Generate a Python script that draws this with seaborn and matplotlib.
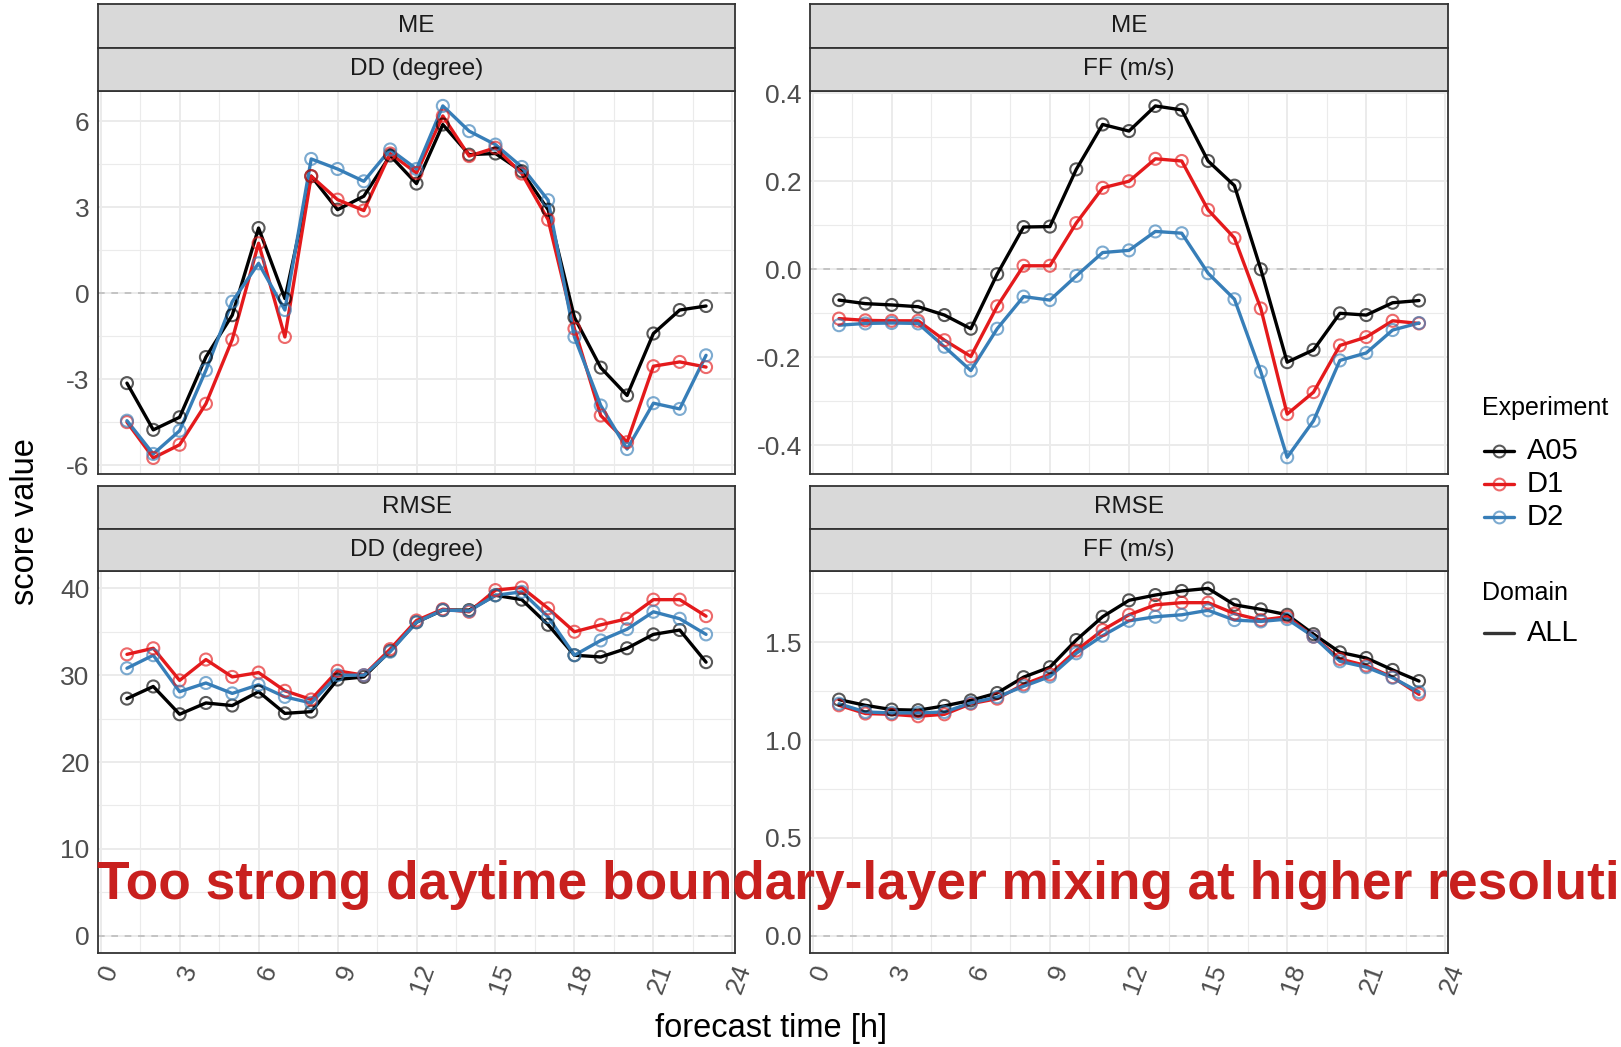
import numpy as np
import pandas as pd
import matplotlib
matplotlib.use("Agg")
import matplotlib.pyplot as plt
import seaborn as sns
from matplotlib.lines import Line2D

# ==================================================
# DATA
# ==================================================
hours = list(range(1, 24))
experiments = ["A05", "D1", "D2"]
exp_colors = ["#000000", "#E41A1C", "#377EB8"]

me_dd_a05 = [-3.13, -4.76, -4.32, -2.22, -0.76, 2.28, -0.18, 4.09, 2.92, 3.39, 4.81, 3.83,
             5.89, 4.84, 4.88, 4.26, 2.92, -0.84, -2.59, -3.56, -1.40, -0.58, -0.44]
me_dd_d1 = [-4.49, -5.74, -5.28, -3.85, -1.61, 1.75, -1.52, 4.09, 3.27, 2.89, 4.88, 4.20,
            6.19, 4.79, 5.08, 4.18, 2.57, -1.23, -4.26, -5.19, -2.54, -2.39, -2.57]
me_dd_d2 = [-4.44, -5.60, -4.79, -2.68, -0.29, 1.05, -0.58, 4.69, 4.34, 3.91, 5.02, 4.34,
            6.54, 5.66, 5.19, 4.41, 3.25, -1.52, -3.91, -5.43, -3.83, -4.03, -2.16]

me_ff_a05 = [-0.070, -0.078, -0.081, -0.085, -0.104, -0.135, -0.011, 0.096, 0.097, 0.227, 0.329, 0.314,
             0.371, 0.362, 0.246, 0.190, 0.000, -0.211, -0.183, -0.100, -0.104, -0.076, -0.071]
me_ff_d1 = [-0.112, -0.116, -0.117, -0.117, -0.161, -0.198, -0.084, 0.008, 0.008, 0.105, 0.185, 0.200,
            0.251, 0.246, 0.135, 0.071, -0.089, -0.329, -0.279, -0.173, -0.154, -0.117, -0.123]
me_ff_d2 = [-0.127, -0.123, -0.122, -0.123, -0.176, -0.230, -0.135, -0.062, -0.070, -0.015, 0.038, 0.043,
            0.086, 0.082, -0.009, -0.068, -0.233, -0.427, -0.344, -0.207, -0.190, -0.138, -0.122]

rmse_dd_a05 = [27.3, 28.7, 25.5, 26.8, 26.5, 28.1, 25.6, 25.8, 29.5, 29.8, 32.8, 36.1,
               37.5, 37.5, 39.2, 38.7, 35.8, 32.3, 32.1, 33.1, 34.7, 35.2, 31.5]
rmse_dd_d1 = [32.4, 33.1, 29.4, 31.8, 29.8, 30.3, 28.2, 27.2, 30.5, 30.0, 33.0, 36.3,
              37.6, 37.3, 39.8, 40.1, 37.7, 35.0, 35.8, 36.5, 38.7, 38.7, 36.8]
rmse_dd_d2 = [30.8, 32.3, 28.1, 29.1, 27.9, 28.9, 27.5, 26.8, 30.0, 30.0, 32.7, 36.1,
              37.5, 37.4, 39.2, 39.6, 36.7, 32.3, 34.0, 35.3, 37.3, 36.5, 34.7]

rmse_ff_a05 = [1.207, 1.178, 1.156, 1.153, 1.175, 1.203, 1.241, 1.322, 1.373, 1.512, 1.631, 1.715,
               1.742, 1.763, 1.776, 1.692, 1.669, 1.641, 1.542, 1.449, 1.420, 1.359, 1.302]
rmse_ff_d1 = [1.178, 1.136, 1.132, 1.122, 1.132, 1.186, 1.212, 1.285, 1.336, 1.458, 1.563, 1.641,
              1.692, 1.703, 1.703, 1.647, 1.614, 1.631, 1.529, 1.415, 1.381, 1.322, 1.234]
rmse_ff_d2 = [1.186, 1.144, 1.139, 1.139, 1.144, 1.190, 1.220, 1.275, 1.325, 1.444, 1.534, 1.610,
              1.631, 1.641, 1.664, 1.614, 1.607, 1.619, 1.529, 1.403, 1.373, 1.319, 1.246]

x_ticks = [0, 3, 6, 9, 12, 15, 18, 21, 24]
overlay_text = "Too strong daytime boundary-layer mixing at higher resolution"

# ==================================================
# LAYOUT HELPERS
# ==================================================
W, H = 1621, 1047
GRID = "#EBEBEB"
DARK = "#333333"


def frac(x0, y0, x1, y1):
    # pixel box (top-left origin) -> figure fraction rect
    return [x0 / W, 1 - y1 / H, (x1 - x0) / W, (y1 - y0) / H]


def fx(x):
    return x / W


def fy(y):
    return 1 - y / H


def long_df(a05, d1, d2):
    rows = []
    for name, vals in zip(experiments, [a05, d1, d2]):
        for h, v in zip(hours, vals):
            rows.append({"hour": h, "value": v, "Experiment": name})
    return pd.DataFrame(rows)


def add_strip(fig, box, label):
    sax = fig.add_axes(frac(*box))
    sax.set_facecolor("#D9D9D9")
    sax.set_xticks([])
    sax.set_yticks([])
    for sp in sax.spines.values():
        sp.set_color(DARK)
        sp.set_linewidth(1.3)
    sax.text(0.5, 0.5, label, ha="center", va="center", fontsize=17.5,
             color="#1A1A1A", transform=sax.transAxes)


def draw_panel(ax, df, ylim, yticks, yminor, ylabels):
    ax.set_facecolor("white")
    ax.set_xlim(-0.1, 24.1)
    ax.set_ylim(*ylim)
    ax.set_xticks(x_ticks)
    ax.set_xticks(np.arange(1.5, 24, 3), minor=True)
    ax.set_yticks(yticks)
    ax.set_yticks(yminor, minor=True)
    ax.grid(which="major", color=GRID, lw=1.4, zorder=0)
    ax.grid(which="minor", color=GRID, lw=0.8, zorder=0)
    ax.set_axisbelow(True)
    ax.axhline(0, color="#BDBDBD", lw=1.2, ls=(0, (4, 4)), zorder=1)
    for name, col in zip(experiments, exp_colors):
        sub = df[df["Experiment"] == name]
        sns.lineplot(data=sub, x="hour", y="value", ax=ax, color=col,
                     linewidth=2.4, legend=False, zorder=3)
        sns.scatterplot(data=sub, x="hour", y="value", ax=ax, color=col,
                        facecolor="none", edgecolor=col, s=75, linewidth=1.5,
                        alpha=0.65, legend=False, zorder=4)
    ax.set_xlabel("")
    ax.set_ylabel("")
    ax.set_yticklabels(ylabels)
    ax.tick_params(which="major", length=4, width=1.1, color=DARK,
                   labelsize=19, labelcolor="#4D4D4D", pad=2)
    ax.tick_params(which="minor", length=0)
    for sp in ax.spines.values():
        sp.set_color(DARK)
        sp.set_linewidth(1.3)


# ==================================================
# FIGURE
# ==================================================
sns.set_style("white")
plt.rcParams["font.family"] = ["Liberation Sans", "DejaVu Sans"]

fig = plt.figure(figsize=(W / 100, H / 100), dpi=100)

panels = [
    # (box, strip1, strip2, data, ylim, yticks, yminor, labels)
    ((98, 91, 735, 474), (98, 4, 735, 47.5), (98, 47.5, 735, 91), "ME", "DD (degree)",
     long_df(me_dd_a05, me_dd_d1, me_dd_d2), (-6.3, 7.06),
     [-6, -3, 0, 3, 6], [-4.5, -1.5, 1.5, 4.5], ["-6", "-3", "0", "3", "6"]),
    ((810, 91, 1448, 474), (810, 4, 1448, 47.5), (810, 47.5, 1448, 91), "ME", "FF (m/s)",
     long_df(me_ff_a05, me_ff_d1, me_ff_d2), (-0.465, 0.405),
     [-0.4, -0.2, 0.0, 0.2, 0.4], [-0.3, -0.1, 0.1, 0.3], ["-0.4", "-0.2", "0.0", "0.2", "0.4"]),
    ((98, 571, 735, 953), (98, 486, 735, 528.5), (98, 528.5, 735, 571), "RMSE", "DD (degree)",
     long_df(rmse_dd_a05, rmse_dd_d1, rmse_dd_d2), (-2.0, 42.0),
     [0, 10, 20, 30, 40], [5, 15, 25, 35], ["0", "10", "20", "30", "40"]),
    ((810, 571, 1448, 953), (810, 486, 1448, 528.5), (810, 528.5, 1448, 571), "RMSE", "FF (m/s)",
     long_df(rmse_ff_a05, rmse_ff_d1, rmse_ff_d2), (-0.089, 1.865),
     [0.0, 0.5, 1.0, 1.5], [0.25, 0.75, 1.25, 1.75], ["0.0", "0.5", "1.0", "1.5"]),
]

for i, (box, s1, s2, t1, t2, df, ylim, yt, ym, yl) in enumerate(panels):
    ax = fig.add_axes(frac(*box))
    draw_panel(ax, df, ylim, yt, ym, yl)
    if i < 2:
        ax.tick_params(axis="x", which="major", length=0, labelbottom=False)
    else:
        ax.set_xticklabels([str(t) for t in x_ticks], rotation=70, ha="right",
                           va="top", rotation_mode="anchor")
    add_strip(fig, s1, t1)
    add_strip(fig, s2, t2)

# axis titles
fig.text(fx(26), fy(522), "score value", rotation=90, ha="center", va="center",
         fontsize=23.5, color="black")
fig.text(fx(771), fy(1029), "forecast time [h]", ha="center", va="center",
         fontsize=23.5, color="black")

# legend, placed by hand like the ggplot guide boxes
fig.text(fx(1482), fy(408), "Experiment", ha="left", va="center", fontsize=18, color="black")
for name, col, yy in zip(experiments, exp_colors, [451, 484, 517]):
    fig.add_artist(Line2D([fx(1484), fx(1514)], [fy(yy), fy(yy)], color=col, lw=2.4,
                          transform=fig.transFigure))
    fig.add_artist(Line2D([fx(1499)], [fy(yy)], color=col, marker="o", markersize=8.5,
                          markerfacecolor="none", markeredgewidth=1.5, alpha=0.65,
                          transform=fig.transFigure))
    fig.text(fx(1527), fy(yy), name, ha="left", va="center", fontsize=21, color="black")

fig.text(fx(1482), fy(593), "Domain", ha="left", va="center", fontsize=18, color="black")
fig.add_artist(Line2D([fx(1484), fx(1514)], [fy(633), fy(633)], color="#333333", lw=2.4,
                      transform=fig.transFigure))
fig.text(fx(1527), fy(633), "ALL", ha="left", va="center", fontsize=21, color="black")

# overlay annotation (runs off the right edge in the original)
fig.text(fx(97), fy(899), overlay_text, ha="left", va="baseline", fontsize=38.3,
         fontweight="bold", color="#C8201E", zorder=10)

fig.savefig("out.png", dpi=100)
